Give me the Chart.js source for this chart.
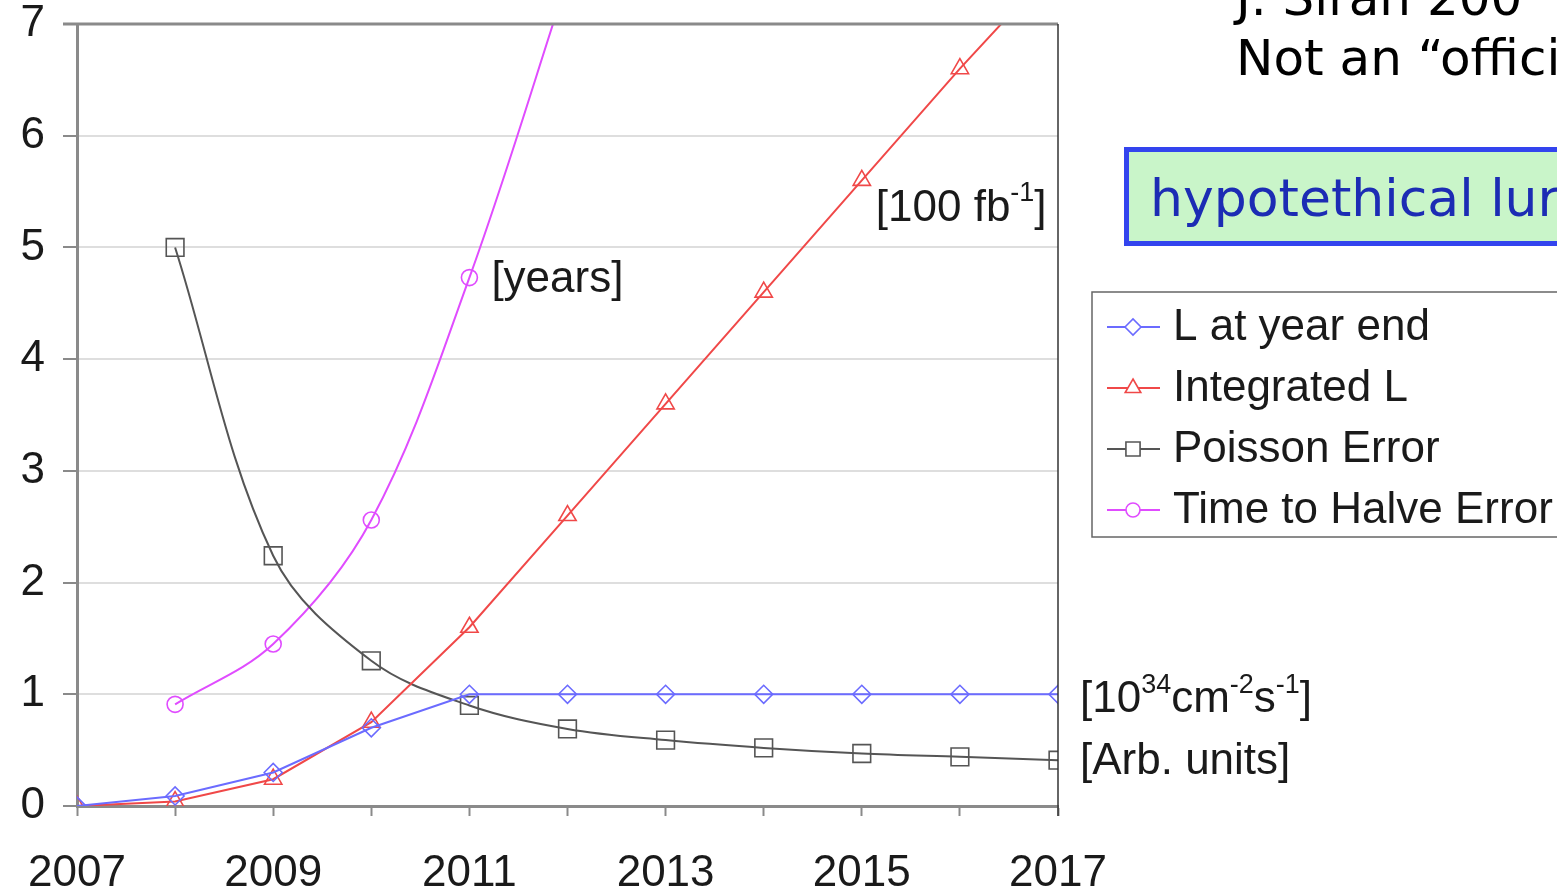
<!DOCTYPE html>
<html>
<head>
<meta charset="utf-8">
<script src="https://cdn.jsdelivr.net/npm/chart.js@4.4.1/dist/chart.umd.min.js"></script>
<style>
  html, body { margin: 0; padding: 0; background: #fff; overflow: hidden; }
  #wrap { position: relative; width: 1557px; height: 890px; }
</style>
</head>
<body>
<div id="wrap"><canvas id="lumiChart" width="1557" height="890"></canvas></div>
<script>
// ---- data ----
const years = [2007, 2008, 2009, 2010, 2011, 2012, 2013, 2014, 2015, 2016, 2017];
const lAtYearEnd = [0, 0.09, 0.3, 0.7, 1, 1, 1, 1, 1, 1, 1];
const integratedL = [0, 0.04, 0.24, 0.75, 1.6, 2.6, 3.6, 4.6, 5.6, 6.6, 7.55];
const poissonError = [null, 5.0, 2.24, 1.3, 0.9, 0.69, 0.59, 0.52, 0.47, 0.44, 0.41];
const timeToHalve = [null, 0.91, 1.45, 2.56, 4.73, 7.4, null, null, null, null, null];
const seriesNames = ['L at year end', 'Integrated L', 'Poisson Error', 'Time to Halve Error'];
const yMin = 0;
const yMax = 7;

const COLORS = {
  blue: '#6b6bff',
  red: '#f04848',
  black: '#555555',
  magenta: '#e04cff',
  axis: '#8a8a8a',
  grid: '#dedede',
  text: '#1a1a1a',
};
const FONT = "'Liberation Sans', Arial, sans-serif";
const SIDE_FONT = "'DejaVu Sans', sans-serif";

function toPoints(vals) {
  return years.map((yr, i) => ({ x: yr, y: vals[i] }));
}

function makeSet(label, vals, color, style, radius, tension) {
  return {
    label: label,
    data: toPoints(vals),
    borderColor: color,
    backgroundColor: 'rgba(0,0,0,0)',
    borderWidth: 2,
    pointStyle: style,
    pointRadius: radius,
    pointBorderColor: color,
    pointBackgroundColor: 'rgba(0,0,0,0)',
    pointBorderWidth: 1.6,
    tension: tension,
    spanGaps: false,
  };
}

const datasets = [
  makeSet(seriesNames[0], lAtYearEnd, COLORS.blue, 'rectRot', 9, 0),
  makeSet(seriesNames[1], integratedL, COLORS.red, 'triangle', 10, 0),
  makeSet(seriesNames[2], poissonError, COLORS.black, 'rect', 12.5, 0.35),
  makeSet(seriesNames[3], timeToHalve, COLORS.magenta, 'circle', 8, 0.35),
];
const legendStyles = [
  { color: COLORS.blue, style: 'rectRot', r: 8 },
  { color: COLORS.red, style: 'triangle', r: 9 },
  { color: COLORS.black, style: 'rect', r: 10 },
  { color: COLORS.magenta, style: 'circle', r: 7 },
];

// draw a string made of normal / superscript parts, left aligned, vertically centred on y
function drawRich(ctx, parts, x, y, size) {
  let cx = x;
  parts.forEach(p => {
    const s = p.sup ? Math.round(size * 0.62) : size;
    ctx.font = s + 'px ' + FONT;
    ctx.fillText(p.t, cx, p.sup ? y - size * 0.33 : y);
    cx += ctx.measureText(p.t).width;
  });
}

const decorPlugin = {
  id: 'decor',
  afterDatasetsDraw(chart) {
    const { ctx, chartArea: a, scales } = chart;
    ctx.save();
    // frame: grey top, thin dark right
    ctx.strokeStyle = COLORS.axis;
    ctx.lineWidth = 3;
    ctx.beginPath();
    ctx.moveTo(a.left - 14, a.top);
    ctx.lineTo(a.right, a.top);
    ctx.stroke();
    ctx.strokeStyle = '#333';
    ctx.lineWidth = 1.5;
    ctx.beginPath();
    ctx.moveTo(a.right, a.top);
    ctx.lineTo(a.right, a.bottom + 10);
    ctx.stroke();

    // unit annotations next to the curves
    const px = v => scales.x.getPixelForValue(v);
    const py = v => scales.y.getPixelForValue(v);
    ctx.fillStyle = COLORS.text;
    ctx.textBaseline = 'middle';
    ctx.textAlign = 'left';
    drawRich(ctx, [{ t: '[years]' }], px(2011) + 22, py(timeToHalve[4]) + 2, 44);
    drawRich(ctx, [{ t: '[100 fb' }, { t: '-1', sup: true }, { t: ']' }], px(2015) + 14, py(integratedL[8]) + 28, 44);
    drawRich(ctx, [{ t: '[10' }, { t: '34', sup: true }, { t: 'cm' }, { t: '-2', sup: true }, { t: 's' }, { t: '-1', sup: true }, { t: ']' }],
      px(2017) + 22, py(lAtYearEnd[10]) + 6, 44);
    drawRich(ctx, [{ t: '[Arb. units]' }], px(2017) + 22, py(poissonError[10]) + 2, 44);

    // side texts
    ctx.font = '50px ' + SIDE_FONT;
    ctx.fillStyle = '#000';
    ctx.textBaseline = 'alphabetic';
    ctx.fillText('J. Siran 200', 1236, 15);
    ctx.fillText('Not an \u201coffici', 1236, 75);

    ctx.fillStyle = '#c9f5c9';
    ctx.fillRect(1124, 147, 460, 98);
    ctx.strokeStyle = '#3344ee';
    ctx.lineWidth = 5;
    ctx.strokeRect(1126.5, 149.5, 460, 94);
    ctx.fillStyle = '#1c2cb4';
    ctx.font = '52px ' + SIDE_FONT;
    ctx.fillText('hypotethical lur', 1150, 216);

    // legend box
    ctx.strokeStyle = '#666';
    ctx.lineWidth = 1.5;
    ctx.strokeRect(1092, 292, 520, 245);
    ctx.font = '44px ' + FONT;
    ctx.textBaseline = 'middle';
    seriesNames.forEach((name, i) => {
      const y = 327 + i * 61;
      const st = legendStyles[i];
      ctx.strokeStyle = st.color;
      ctx.lineWidth = 2;
      ctx.beginPath();
      ctx.moveTo(1107, y);
      ctx.lineTo(1160, y);
      ctx.stroke();
      ctx.lineWidth = 1.6;
      ctx.fillStyle = '#ffffff';
      Chart.helpers.drawPoint(ctx, { pointStyle: st.style, radius: st.r, rotation: 0, borderWidth: 1.6 }, 1133, y);
      ctx.fillStyle = COLORS.text;
      ctx.fillText(name, 1173, y + 1);
    });
    ctx.restore();
  },
};

new Chart(document.getElementById('lumiChart').getContext('2d'), {
  type: 'line',
  data: { datasets: datasets },
  options: {
    responsive: false,
    animation: false,
    events: [],
    layout: { padding: { left: 0, top: 24, right: 499, bottom: 0 } },
    plugins: { legend: { display: false }, tooltip: { enabled: false } },
    scales: {
      x: {
        type: 'linear',
        min: years[0],
        max: years[years.length - 1],
        afterFit: scale => { scale.height = 84; scale.paddingLeft = 0; scale.paddingRight = 0; },
        ticks: {
          stepSize: 1,
          autoSkip: false,
          maxRotation: 0,
          padding: 31,
          color: COLORS.text,
          font: { family: FONT, size: 44 },
          callback: v => (v % 2 === 1 ? String(v) : ''),
        },
        grid: { drawOnChartArea: false, tickLength: 10, tickColor: COLORS.axis, tickWidth: 2 },
        border: { color: COLORS.axis, width: 3 },
      },
      y: {
        min: yMin,
        max: yMax,
        afterFit: scale => { scale.width = 77; scale.paddingTop = 0; scale.paddingBottom = 0; },
        ticks: {
          stepSize: 1,
          padding: 18,
          color: COLORS.text,
          font: { family: FONT, size: 44 },
        },
        grid: { color: COLORS.grid, lineWidth: 2, tickLength: 14, tickColor: COLORS.axis, tickWidth: 2 },
        border: { color: COLORS.axis, width: 3 },
      },
    },
  },
  plugins: [decorPlugin],
});
</script>
</body>
</html>
